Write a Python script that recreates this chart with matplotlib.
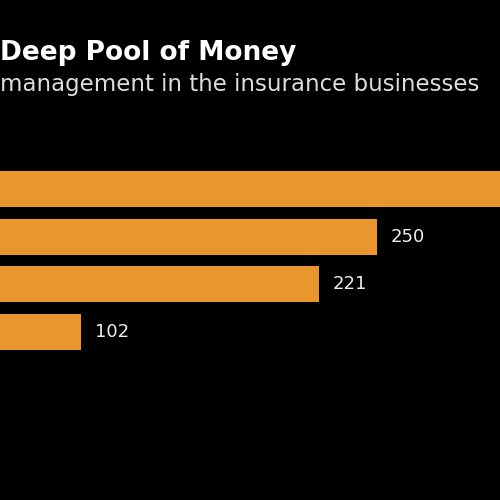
import matplotlib.pyplot as plt

# values (first bar runs off the right edge)
values = [330, 250, 221, 102]
labels = ['', '250', '221', '102']

fig = plt.figure(figsize=(5, 5), dpi=100, facecolor='black')
ax = fig.add_axes([0, 0, 1, 1], facecolor='black')

ypos = list(range(len(values)))
ax.barh(ypos, values, height=0.75, color='#E9962F')
for y, v, lab in zip(ypos, values, labels):
    if lab:
        ax.text(v + 7, y, lab, color='#EEEEEE', fontsize=13, va='center', ha='left')

# the reference is cropped: left edge is ~61 units, right edge ~311
ax.set_xlim(61.5, 311.5)
ax.set_ylim(6.52, -3.96)
ax.axis('off')

fig.text(0.0, 0.895, 'Deep Pool of Money', color='white', fontsize=19,
         fontweight='bold', ha='left', va='center')
fig.text(0.0, 0.83, 'management in the insurance businesses', color='#DDDDDD',
         fontsize=16.5, ha='left', va='center')

fig.savefig('out.png', dpi=100, facecolor='black')
